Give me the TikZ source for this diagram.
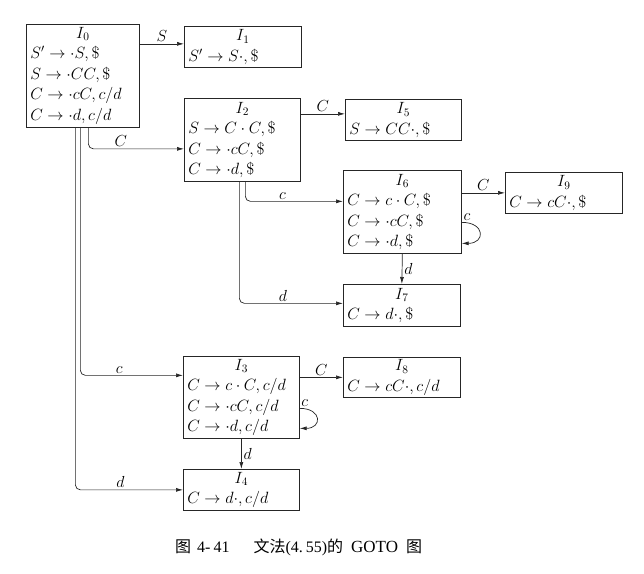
\RequirePackage{fix-cm}
\documentclass[tikz,border=0pt]{standalone}
\usepackage{fontspec}
\newfontfamily\cjk{Noto Sans CJK SC}
\newfontfamily\capfont{Liberation Serif}
\usetikzlibrary{arrows.meta}
\newcommand\boxhead[1]{\makebox[\hsize]{$#1$}}
\tikzset{
  stbox/.style 2 args={draw=black!85, line width=0.7pt, anchor=north west,
    inner xsep=4pt, inner ysep=0pt, text width=#1, minimum height=#2,
    align=left, font=\fontsize{16.3}{20.5}\selectfont},
  conn/.style={draw=black!85, line width=0.7pt, rounded corners=5pt,
    -{Latex[length=7pt,width=4pt]}},
  lab/.style={font=\fontsize{16}{18}\selectfont, inner sep=2pt},
}
\begin{document}
\begin{tikzpicture}[x=1pt,y=-1pt]
\useasboundingbox (0,0) rectangle (644,573);

% state boxes
\node[stbox={105pt}{103pt}] (I0) at (26,24)
  {\boxhead{I_0}\\ $S'\to\cdot S,\$$\\ $S\to\cdot CC,\$$\\ $C\to\cdot cC,c/d$\\ $C\to\cdot d,c/d$};
\node[stbox={109pt}{41pt}] (I1) at (184,26)
  {\boxhead{I_1}\\ $S'\to S\cdot,\$$};
\node[stbox={108pt}{83pt}] (I2) at (184,98)
  {\boxhead{I_2}\\ $S\to C\cdot C,\$$\\ $C\to\cdot cC,\$$\\ $C\to\cdot d,\$$};
\node[stbox={108pt}{41pt}] (I5) at (345,99)
  {\boxhead{I_5}\\ $S\to CC\cdot,\$$};
\node[stbox={110pt}{83pt}] (I6) at (343,170)
  {\boxhead{I_6}\\ $C\to c\cdot C,\$$\\ $C\to\cdot cC,\$$\\ $C\to\cdot d,\$$};
\node[stbox={109pt}{41pt}] (I9) at (505,172)
  {\boxhead{I_9}\\ $C\to cC\cdot,\$$};
\node[stbox={109pt}{42pt}] (I7) at (343,284)
  {\boxhead{I_7}\\ $C\to d\cdot,\$$};
\node[stbox={108pt}{82pt}] (I3) at (183,356)
  {\boxhead{I_3}\\ $C\to c\cdot C,c/d$\\ $C\to\cdot cC,c/d$\\ $C\to\cdot d,c/d$};
\node[stbox={109pt}{40pt}] (I8) at (343,357)
  {\boxhead{I_8}\\ $C\to cC\cdot,c/d$};
\node[stbox={108pt}{41pt}] (I4) at (183,469)
  {\boxhead{I_4}\\ $C\to d\cdot,c/d$};

% transitions
\draw[conn] ([yshift=3pt]I1.west -| I0.east) -- node[lab, above] (lS) {$S$} ([yshift=3pt]I1.west);
\draw[conn] ([xshift=5.5pt]I0.south) |- node[lab, pos=0.67, above] (lC0) {$C$} ([yshift=-9pt]I2.west);
\draw[conn] ([xshift=-2.5pt]I0.south) |- node[lab, pos=0.69, above] (lc0) {$c$} ([yshift=22pt]I3.west);
\draw[conn] ([xshift=-7.5pt]I0.south) |- node[lab, pos=0.71, above] (ld0) {$d$} (I4.west);

\draw[conn] ([yshift=26pt]I2.east) -- node[lab, above] (lC2) {$C$} ([yshift=26pt]I2.east -| I5.west);
\draw[conn] ([xshift=3pt]I2.south) |- node[lab, pos=0.69, above] (lc2) {$c$} ([yshift=10.5pt]I6.west);
\draw[conn] ([xshift=-3pt]I2.south) |- node[lab, pos=0.71, above] (ld2) {$d$} ([yshift=2pt]I7.west);

\draw[conn] (I6.east |- I9.west) -- node[lab, above] (lC6) {$C$} (I9.west);
\draw[conn] ([yshift=-10.5pt]I6.east) to[out=0, in=0, looseness=2.9]
  node[lab, pos=0.08, above] (lc6) {$c$} ([yshift=-31.5pt]I6.east);
\draw[conn] (I6.south) -- node[lab, right] (ld6) {$d$} (I7.north);

\draw[conn] ([yshift=20pt]I3.east) -- node[lab, above] (lC3) {$C$} ([yshift=20pt]I3.east -| I8.west);
\draw[conn] ([yshift=-11pt]I3.east) to[out=0, in=0, looseness=2.9]
  node[lab, pos=0.08, above] (lc3) {$c$} ([yshift=-31pt]I3.east);
\draw[conn] (I3.south) -- node[lab, right] (ld3) {$d$} (I4.north);

% caption
\node[font=\fontsize{16}{18}\selectfont, inner sep=0pt, anchor=west] (cap) at (175,547)
  {{\cjk 图}\hspace{6pt}{\capfont 4-\hspace{3pt}41}\hspace{24pt}{\cjk 文法}{\capfont(4.\hspace{3pt}55)}{\cjk 的}\hspace{8pt}{\capfont\fontsize{17}{18}\selectfont GOTO}\hspace{8pt}{\cjk 图}};
\end{tikzpicture}
\end{document}
